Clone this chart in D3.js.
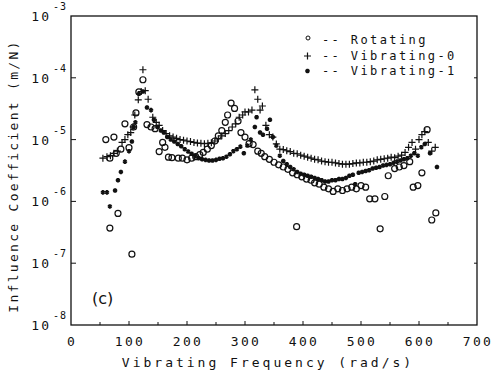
<!DOCTYPE html>
<html>
<head>
<meta charset="utf-8">
<script src="https://cdn.jsdelivr.net/npm/d3@7"></script>
<style>
body { margin: 0; background: #fff; }
text { font-family: "DejaVu Sans Mono", monospace; fill: #111; }
</style>
</head>
<body>
<div id="chart"></div>
<script>
// ##################################
// Data: [frequency (rad/s), influence coefficient (m/N)]
// ##################################

const rotating = [
  [60,1.0e-5],[74,1.1e-5],[67,3.7e-7],[81,6.4e-7],[105,1.4e-7],
  [67,5.0e-6],[78,6.0e-6],[86,7.0e-6],[93,1.8e-5],[100,7.4e-6],[108,1.6e-5],
  [112,2.7e-5],[117,5.9e-5],[124,9.3e-5],[131,1.75e-5],[138,1.6e-5],[145,1.5e-5],
  [152,6.4e-6],[158,9e-6],[162,7.5e-6],[168,5.2e-6],[174,5.1e-6],[185,5.0e-6],
  [192,5.0e-6],[200,4.7e-6],[208,5.0e-6],[215,5.3e-6],[222,5.7e-6],[228,6.2e-6],
  [235,7.0e-6],[242,8.0e-6],[248,9.5e-6],[254,1.15e-5],[260,1.4e-5],[266,1.9e-5],
  [270,2.5e-5],[276,3.9e-5],[282,3.2e-5],[288,2.0e-5],[293,1.3e-5],[300,1.1e-5],
  [307,8.6e-6],[314,8.3e-6],[322,6.5e-6],[328,6.0e-6],[334,5.3e-6],[342,4.8e-6],
  [350,4.3e-6],[358,3.9e-6],[366,3.6e-6],[374,3.3e-6],[382,2.9e-6],[390,2.7e-6],
  [398,2.5e-6],[406,2.3e-6],[414,2.2e-6],[420,2.0e-6],[428,1.9e-6],[436,1.7e-6],
  [444,1.6e-6],[452,1.45e-6],[460,1.6e-6],[468,1.5e-6],[476,1.6e-6],[484,1.7e-6],
  [492,1.6e-6],[500,1.8e-6],[508,1.7e-6],[515,1.1e-6],[524,1.1e-6],[541,1.2e-6],
  [547,2.6e-6],[558,3.4e-6],[566,3.6e-6],[574,3.8e-6],[584,4.4e-6],[590,1.7e-6],
  [598,1.8e-6],[605,2.9e-6],[614,1.45e-5],[622,5e-7],[629,6.5e-7],[389,3.9e-7],[533,3.6e-7]
];

const vibrating0 = [
  [55,5.0e-6],[62,5.3e-6],[68,5.5e-6],[74,6.0e-6],[80,6.5e-6],[88,9e-6],[93,1.0e-5],
  [98,1.2e-5],[103,1.3e-5],[107,1.6e-5],[110,2.5e-5],[116,4.4e-5],[121,6.0e-5],
  [124,1.35e-4],[128,6.2e-5],[133,4.5e-5],[141,2.3e-5],[147,1.9e-5],[152,1.7e-5],
  [158,1.4e-5],[164,1.25e-5],[170,1.15e-5],[176,1.1e-5],[182,1.05e-5],[188,1.0e-5],
  [194,9.8e-6],[200,9.5e-6],[206,9.3e-6],[212,9.0e-6],[218,8.8e-6],[224,8.7e-6],
  [230,8.6e-6],[236,8.7e-6],[242,8.9e-6],[248,9.5e-6],[254,1.03e-5],[260,1.15e-5],
  [266,1.25e-5],[272,1.4e-5],[278,1.6e-5],[284,1.8e-5],[290,2.3e-5],[296,2.5e-5],
  [300,2.8e-5],[306,2.8e-5],[312,3.0e-5],[317,6.4e-5],[322,4.5e-5],[326,3.0e-5],
  [330,3.5e-5],[336,1.7e-5],[342,1.2e-5],[348,1.1e-5],[354,8.5e-6],[360,7.0e-6],
  [366,6.9e-6],[372,6.6e-6],[378,6.4e-6],[384,6.0e-6],[390,5.9e-6],[396,5.6e-6],
  [402,5.4e-6],[408,5.2e-6],[414,5.0e-6],[420,4.8e-6],[426,4.7e-6],[432,4.5e-6],
  [438,4.4e-6],[444,4.3e-6],[450,4.3e-6],[456,4.2e-6],[462,4.1e-6],[468,4.0e-6],
  [474,4.0e-6],[480,4.0e-6],[486,4.1e-6],[492,4.2e-6],[498,4.2e-6],[504,4.3e-6],
  [510,4.3e-6],[516,4.4e-6],[522,4.5e-6],[528,4.7e-6],[534,4.8e-6],[540,4.9e-6],
  [546,5.0e-6],[552,5.2e-6],[558,5.1e-6],[564,5.4e-6],[570,5.6e-6],[576,6.2e-6],
  [582,7.5e-6],[588,9e-6],[594,7e-6],[600,1.0e-5],[605,1.2e-5],[610,1.35e-5],
  [616,9e-6],[622,6.5e-6],[628,7.5e-6]
];

const vibrating1 = [
  [55,1.4e-6],[62,1.4e-6],[67,8.3e-7],[76,1.5e-6],[81,2.2e-6],[86,3.0e-6],[93,4.4e-6],
  [100,6.5e-6],[105,9.3e-6],[108,1.6e-5],[111,1.9e-5],[117,5.5e-5],[124,6.0e-5],
  [131,3.3e-5],[138,3.0e-5],[143,2.1e-5],[149,1.6e-5],[155,1.4e-5],[160,1.3e-5],
  [166,1.1e-5],[172,1.0e-5],[178,9.3e-6],[184,8.5e-6],[190,7.8e-6],[196,7.0e-6],
  [202,6.4e-6],[208,5.9e-6],[214,5.4e-6],[220,5.0e-6],[226,4.8e-6],[232,4.7e-6],
  [238,4.6e-6],[244,4.6e-6],[250,4.7e-6],[256,4.9e-6],[262,5.0e-6],[268,5.3e-6],
  [274,5.8e-6],[280,6.5e-6],[286,7.0e-6],[292,7.7e-6],[298,6.0e-6],[304,8.0e-6],
  [310,1.0e-5],[317,1.6e-5],[320,2.3e-5],[326,1.3e-5],[331,1.2e-5],[338,1.5e-5],
  [343,2.1e-5],[348,1.1e-5],[354,8e-6],[360,5.5e-6],[366,4.5e-6],[372,4.0e-6],
  [378,3.6e-6],[384,3.3e-6],[390,3.0e-6],[396,2.8e-6],[402,2.7e-6],[408,2.6e-6],
  [414,2.5e-6],[420,2.4e-6],[426,2.3e-6],[432,2.2e-6],[438,2.1e-6],[444,2.1e-6],
  [450,2.2e-6],[456,2.2e-6],[462,2.3e-6],[468,2.3e-6],[474,2.4e-6],[480,2.6e-6],
  [486,2.7e-6],[490,1.9e-6],[496,2.9e-6],[502,3.0e-6],[508,3.1e-6],[514,3.2e-6],
  [520,3.4e-6],[526,3.5e-6],[532,3.6e-6],[538,3.8e-6],[544,3.9e-6],[550,4.0e-6],
  [556,4.2e-6],[562,4.4e-6],[568,4.6e-6],[574,4.8e-6],[580,5.0e-6],[586,5.5e-6],
  [592,6.0e-6],[598,5.5e-6],[604,7.5e-6],[610,8.5e-6],[619,6.0e-6],[631,3.6e-6]
];

const xTicks = [0, 100, 200, 300, 400, 500, 600, 700];
const yExponents = [-3, -4, -5, -6, -7, -8];
const legendLabels = ["Rotating", "Vibrating-0", "Vibrating-1"];


// Store values for svg creation
const w = 494;
const h = 376;
const padLeft = 71, padRight = 477, padTop = 16, padBottom = 325;

let svg = d3.select("#chart")
            .append("svg")
            .attr("width", w)
            .attr("height", h);

const xScale = d3.scaleLinear().domain([0, 700]).range([padLeft, padRight]);
const yScale = d3.scaleLog().domain([1e-8, 1e-3]).range([padBottom, padTop]);


// Frame
svg.append("rect")
    .attr("x", padLeft).attr("y", padTop)
    .attr("width", padRight - padLeft).attr("height", padBottom - padTop)
    .attr("fill", "none").attr("stroke", "#111").attr("stroke-width", 1.3);

// x ticks (inside, every 50)
svg.append("g")
    .selectAll("line")
    .data(d3.range(50, 700, 50))
    .join("line")
        .attr("x1", d => xScale(d)).attr("x2", d => xScale(d))
        .attr("y1", padBottom).attr("y2", d => padBottom - (d % 100 === 0 ? 4 : 3))
        .attr("stroke", "#111").attr("stroke-width", 1);

svg.append("g")
    .selectAll("text")
    .data(xTicks)
    .join("text")
        .attr("x", d => xScale(d) + 1)
        .attr("y", 346)
        .attr("text-anchor", "middle")
        .style("font-size", "13px")
        .style("letter-spacing", "2.4px")
        .text(d => d);

// y ticks at decades (left and right, inside)
svg.append("g")
    .selectAll("line")
    .data(yExponents.slice(1, -1))
    .join("line")
        .attr("x1", padLeft).attr("x2", padLeft + 5)
        .attr("y1", d => yScale(Math.pow(10, d))).attr("y2", d => yScale(Math.pow(10, d)))
        .attr("stroke", "#111").attr("stroke-width", 1);

svg.append("g")
    .selectAll("line")
    .data(yExponents.slice(1, -1))
    .join("line")
        .attr("x1", padRight).attr("x2", padRight - 3)
        .attr("y1", d => yScale(Math.pow(10, d))).attr("y2", d => yScale(Math.pow(10, d)))
        .attr("stroke", "#111").attr("stroke-width", 1);

let yLabels = svg.append("g")
    .selectAll("g")
    .data(yExponents)
    .join("g")
        .attr("transform", d => "translate(0," + yScale(Math.pow(10, d)) + ")");

yLabels.append("text")
    .attr("x", 51).attr("y", 5)
    .attr("text-anchor", "end")
    .style("font-size", "13px")
    .style("letter-spacing", "2px")
    .text("10");

yLabels.append("text")
    .attr("x", 53).attr("y", -6)
    .style("font-size", "10px")
    .style("letter-spacing", "1px")
    .text(d => "-" + Math.abs(d));


// Axis titles
svg.append("text")
    .attr("x", 268).attr("y", 367)
    .attr("text-anchor", "middle")
    .style("font-size", "13px")
    .style("letter-spacing", "3px")
    .text("Vibrating Frequency (rad/s)");

svg.append("text")
    .attr("transform", "translate(18," + 176 + ") rotate(-90)")
    .attr("text-anchor", "middle")
    .style("font-size", "13px")
    .style("letter-spacing", "2.3px")
    .text("Influence Coefficient (m/N)");

svg.append("text")
    .attr("x", 92).attr("y", 304)
    .style("font-family", "DejaVu Sans, sans-serif")
    .style("font-size", "16px")
    .text("(c)");


// Plot points
const marks = svg.append("g");

marks.selectAll("circle")
    .data(rotating)
    .join("circle")
        .attr("cx", d => xScale(d[0]))
        .attr("cy", d => yScale(d[1]))
        .attr("r", 3)
        .attr("fill", "none")
        .attr("stroke", "#111")
        .attr("stroke-width", 1.2);

const plusPath = "M-3.5,0H3.5M0,-3.5V3.5";
marks.selectAll(".plus")
    .data(vibrating0)
    .join("path")
        .attr("class", "plus")
        .attr("transform", d => "translate(" + xScale(d[0]) + "," + yScale(d[1]) + ")")
        .attr("d", plusPath)
        .attr("stroke", "#111")
        .attr("stroke-width", 1.2);

const star = d3.symbol().type(d3.symbolAsterisk).size(14);
marks.selectAll(".star")
    .data(vibrating1)
    .join("path")
        .attr("class", "star")
        .attr("transform", d => "translate(" + xScale(d[0]) + "," + yScale(d[1]) + ")")
        .attr("d", star)
        .attr("fill", "none")
        .attr("stroke", "#111")
        .attr("stroke-width", 1.9);


// Legend
const legendY = [40, 56, 71];
let legend = svg.append("g")
    .selectAll("g")
    .data(legendLabels)
    .join("g")
        .attr("transform", (d, i) => "translate(0," + legendY[i] + ")");

legend.append("text")
    .attr("x", 322).attr("y", 4)
    .style("font-size", "12px")
    .style("letter-spacing", "2.4px")
    .text(d => "-- " + d);

legend.filter((d, i) => i === 0).append("circle")
    .attr("cx", 308).attr("cy", -2).attr("r", 2)
    .attr("fill", "none").attr("stroke", "#111").attr("stroke-width", 1);

legend.filter((d, i) => i === 1).append("path")
    .attr("transform", "translate(307.5,0)")
    .attr("d", plusPath)
    .attr("stroke", "#111").attr("stroke-width", 1.2);

legend.filter((d, i) => i === 2).append("path")
    .attr("transform", "translate(307.5,0)")
    .attr("d", star)
    .attr("fill", "none").attr("stroke", "#111").attr("stroke-width", 1.9);
</script>
</body>
</html>
